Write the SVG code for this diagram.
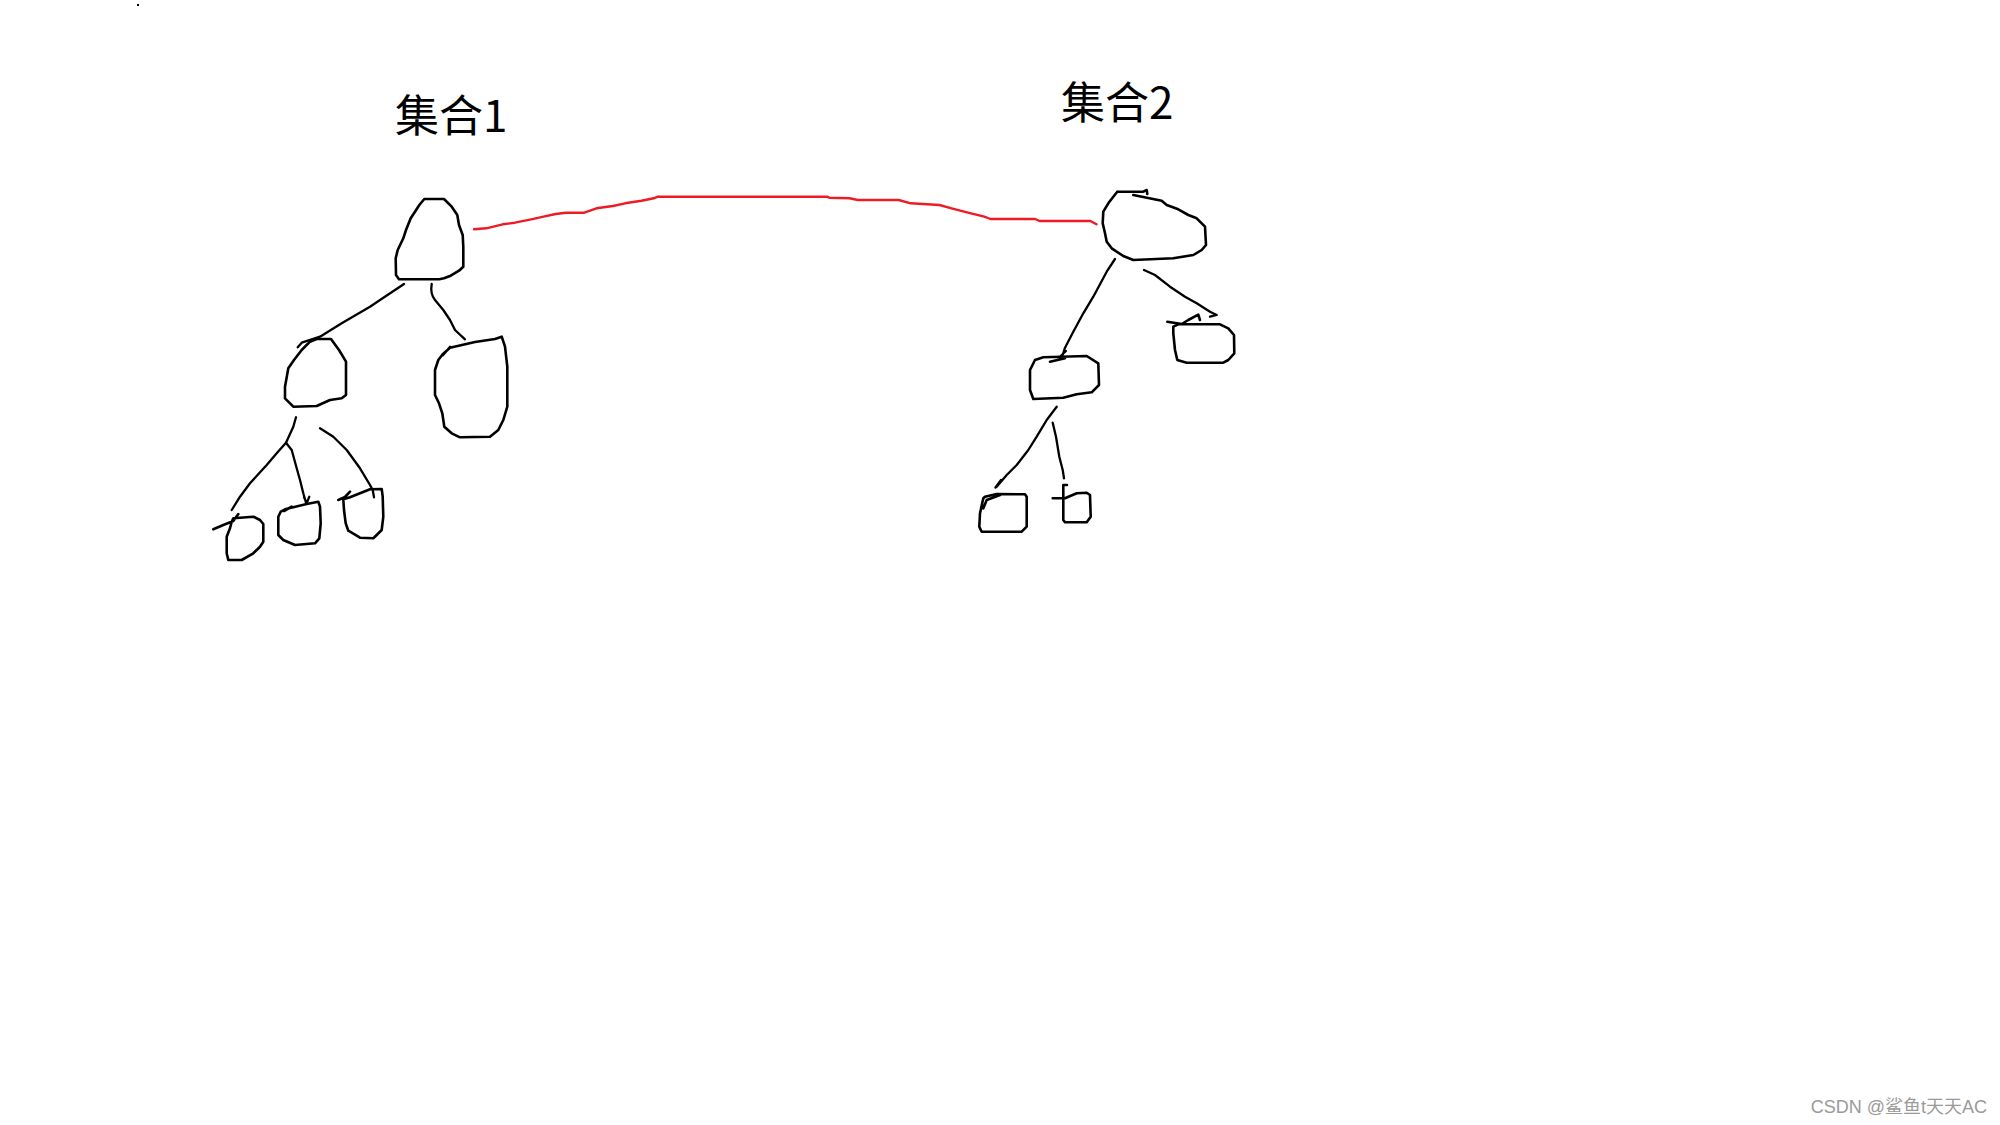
<svg xmlns="http://www.w3.org/2000/svg" width="2000" height="1125" viewBox="0 0 2000 1125">
<style>
.n{fill:none;stroke:#000;stroke-width:2.6;stroke-linejoin:round;stroke-linecap:round}
.e{fill:none;stroke:#000;stroke-width:2.3;stroke-linejoin:round;stroke-linecap:round}
.r{fill:none;stroke:#ed1c24;stroke-width:2.4;stroke-linejoin:round;stroke-linecap:round}
.t{font-family:"Microsoft YaHei","Noto Sans CJK SC","Noto Sans",sans-serif;font-size:44px;fill:#000}
.w{font-family:"Liberation Sans","Noto Sans CJK SC",sans-serif;font-size:18px;fill:#9a9a9a}
</style>
<rect width="2000" height="1125" fill="#fff"/>
<rect x="137" y="4" width="2" height="2" fill="#000"/>
<text class="t" x="395" y="132">集合1</text>
<text class="t" x="1061" y="119">集合2</text>
<text class="w" x="1987" y="1113" text-anchor="end">CSDN @鲨鱼t天天AC</text>

<g id="connectors">
<path class="r" d="M474.1,229.3 L486.3,228.3 L502.7,224.3 L514.9,222.7 L531.2,219.3 L543.5,216.7 L555.7,214 L565.9,212.7 L584.3,212.7 L596.5,208.3 L612.9,206 L625.1,203.3 L641.4,200.7 L653.7,198.3 L657.8,196.7 L827.1,196.7 L829.2,197.7 L849.6,198.3 L857.8,200 L898.6,200 L910.8,203.3 L939.4,205 L951.6,208.3 L968,212.7 L984.3,216.7 L990.4,219 L1035.3,219 L1039.4,221 L1090.4,221 L1096.5,224.3"/>
<path class="e" d="M404,284 L380,300 L370,306.7 L341.7,323.3 L320,336.7 L311.7,339.3 L301.7,342.7 L297.7,347.3"/>
<path class="e" d="M431.7,284 Q430,294 435,300 L443.3,310 L450,320 L455,330 L465,339.3"/>
<path class="e" d="M296,417.3 L293.3,426.7 L286,442.7 L276.7,453.3 L266.7,465 L250,483.3 L240,496.7 L231.7,510"/>
<path class="e" d="M286,442.7 L291.7,450 L296.7,468.3 L300,480 L303.3,493.3 L306,502.7 M304,497 L306.7,503.3 L309.3,496.7"/>
<path class="e" d="M320,428.3 L333.3,436.7 L346.7,450 L360,468.3 L370,485 L372.7,490 L374,497.3"/>
<path class="e" d="M1115,259 L1106.7,271.7 L1093.3,296.7 L1083.3,313.3 L1073.3,331.7 L1065,347.7 L1062.7,355 M1060.7,356 L1066,351"/>
<path class="e" d="M1144,270 L1155,275 L1170,286.7 L1185,296.7 L1196.7,303.3 L1210,311.7 L1216.7,315 L1210,316.7"/>
<path class="e" d="M1056.7,406.7 L1046.7,420 L1036.7,436.7 L1028.3,450 L1016.7,465 L1006.7,475 L996.7,486.7 M1001,480 L995.5,487.5"/>
<path class="e" d="M1052.7,422.7 L1056,436.7 L1059.3,456.7 L1062.7,470 L1064,478.3"/>
</g>

<g id="root1">
<path class="n" d="M424.3,199 L444,199 L451.7,206.7 L457.3,215 L459,225 L462.7,235 L463.3,246.7 L463.3,266.7 L459,270.7 L450.7,275.7 L444,278.3 L439.3,279.3 L399,279.3 L396,275 L395.7,258.3 L397.7,250 L403.3,238.3 L406,230 L410.7,218.3 L415,211.7 L419.3,205 Z"/>
</g>
<g id="l1">
<path class="n" d="M316.7,339 L331,339 L339,350 L346,361.7 L346,395 L341.7,398.3 L330,400 L316.7,406 L293.3,406.7 L285,398.3 L285,386.7 L288.3,368.3 L294,360 L301.7,350 L310,341.7 Z"/>
</g>
<g id="r1">
<path class="n" d="M450,347.7 L475,342 L495,339 L501.7,336.7 L505,346.7 L507.3,366.7 L507.3,406.7 L503.3,420 L498.3,430 L490,436.7 L460,437.3 L451.7,433.3 L444.3,426.7 L442.3,413.3 L439,403.3 L435,395 L435,370 L438.3,360 L442.7,354.3 Z M443,355 L450,347"/>
</g>
<g id="leaf1a">
<path class="n" d="M233.3,518.3 L253.3,516.7 L260,520 L263.3,524 L263.3,541.7 L260,546.7 L253.3,553.3 L241.7,560 L228.3,560 L226.7,553.3 L226.7,536.7 L230,528.3 L231.7,521.7 Z M213.3,529.3 L223.3,525 L233.3,521 L238.3,514"/>
</g>
<g id="leaf1b">
<path class="n" d="M286,509 L306.7,504 L318.3,501.7 L320,506.7 L320.7,523.3 L319.3,538.3 L315,543.3 L295,545 L283.3,540 L278.3,535 L278.3,516.7 L280.7,511.7 Z M284,511 L291.7,506.7"/>
</g>
<g id="leaf1c">
<path class="n" d="M343.3,499.3 L350,497.3 L370,489.3 L381.7,489 L382.7,496.7 L383.3,516.7 L381.7,530 L376.7,535 L373.3,538.3 L360,537.7 L348.3,530.7 L345.7,523.3 L344,510 Z M338.3,500 L345,497 L350,491.7"/>
</g>

<g id="root2">
<path class="n" d="M1117.3,191.7 L1143.3,191.7 L1146.7,190 L1147.3,194 M1133.3,195 L1161.7,200.7 L1166.7,205 L1178.3,209.3 L1188.3,215 L1196.7,218.3 L1205,226.7 L1206,245 L1201.7,250 L1193.3,255 L1173.3,258.3 L1133.3,260 L1123.3,256 L1111.7,248.3 L1106.7,241.7 L1105,233.3 L1102.7,223.3 L1103.3,211.7 L1108.3,203.3 L1113.3,196.7 L1117.3,191.7"/>
</g>
<g id="l2">
<path class="n" d="M1035,360 L1043.3,357.3 L1086.7,356 L1098.3,363.3 L1099,385 L1091.7,392.3 L1076.7,394.3 L1063.3,397.7 L1033.3,399 L1030,390 L1030,370 Z M1050,361.7 L1065,358.3"/>
</g>
<g id="r2">
<path class="n" d="M1173.3,326.7 L1178.3,324.3 L1220,324.3 L1228.3,328.3 L1234,335 L1234.3,353.3 L1228.3,360 L1223.3,362.7 L1186.7,362.7 L1177.3,360 L1175,350 L1173.3,333.3 Z M1167.3,321.7 L1181.7,324 L1188.3,320 L1198.3,314.7 L1200,320"/>
</g>
<g id="leaf2a">
<path class="n" d="M985,496.7 L996.7,494 L1025,494.3 L1026.7,496.7 L1026.7,526.7 L1021.7,531.7 L981.7,531.7 L979.3,526.7 L980,513.3 L983.3,498.3 Z M983.3,508.3 L986.7,500 L1000,495"/>
</g>
<g id="leaf2b">
<path class="n" d="M1063.3,485 L1063.3,520 L1065,522.3 L1086.7,522.3 L1090.7,516.7 L1090,495 L1086.7,492.7 L1076.7,493.3 L1065,498.3 L1052.7,498.3 M1063.3,485 L1067,485"/>
</g>
</svg>
